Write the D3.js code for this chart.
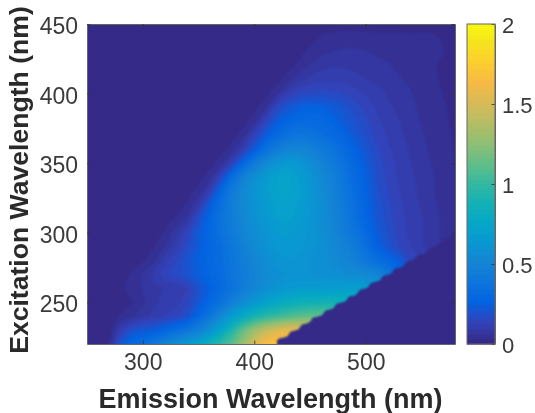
<!DOCTYPE html>
<html><head><meta charset="utf-8">
<script src="https://cdn.jsdelivr.net/npm/d3@7/dist/d3.min.js"></script>
<style>html,body{margin:0;padding:0;background:#fff}svg{display:block;filter:blur(0.4px)}text{font-family:"Liberation Sans",Arial,sans-serif}</style>
</head><body><svg id="c" width="535" height="413"></svg>
<script>
const emission = [250,260,270,280,290,300,310,320,330,340,350,360,370,380,390,400,410,420,430,440,450,460,470,480,490,500,510,520,530,540,550,560,570,580];
const excitation = [220,230,240,250,260,270,280,290,300,310,320,330,340,350,360,370,380,390,400,410,420,430,440,450];
// each row lists the values up to 580 nm; columns left of the list are zero
const row220 = [.02,.2,.3,.33,.4,.48,.55,.65,.73,.85,.98,1.1,1.28,1.5,1.64,1.7,1.72,1.75,1.75,1.75,1.75,1.75,1.75,1.75,1.75,1.75,1.75,1.75,1.75,1.75,1.75,1.75];
const row230 = [.1,.18,.2,.22,.27,.32,.38,.45,.58,.72,.92,1.12,1.28,1.42,1.5,1.55,1.55,1.55,1.55,1.55,1.55,1.55,1.55,1.55,1.55,1.55,1.55,1.55,1.55,1.55,1.55];
const row240 = [.02,.04,.07,.09,.11,.13,.17,.28,.38,.52,.66,.78,.88,.95,1,1.05,1.1,1.12,1.12,1.12,1.12,1.12,1.12,1.12,1.12,1.12,1.12,1.12,1.12,1.12,1.12];
const row250 = [0,.015,.04,.07,.09,.1,.13,.2,.28,.36,.46,.54,.62,.7,.76,.8,.83,.85,.86,.86,.85,.85,.85,.85,.85,.85,.85,.85,.85,.85,.85];
const row260 = [.01,.025,.05,.07,.08,.08,.11,.18,.24,.3,.36,.43,.5,.56,.6,.63,.65,.65,.65,.66,.66,.68,.68,.65,.6,.55,.5,.4,.3,.25,.2];
const row270 = [.005,.02,.05,.09,.13,.16,.19,.23,.27,.31,.37,.43,.48,.53,.57,.58,.58,.58,.57,.56,.55,.54,.52,.5,.42,.3,.22,.16,.12,.09,.06];
const row280 = [.005,.012,.04,.1,.14,.19,.24,.28,.32,.38,.44,.5,.55,.59,.61,.6,.58,.56,.54,.5,.46,.39,.33,.28,.22,.14,.11,.08,.05,.03];
const row290 = [.005,.015,.05,.1,.16,.22,.27,.32,.39,.46,.53,.58,.62,.63,.62,.6,.57,.53,.48,.42,.34,.25,.19,.14,.11,.085,.06,.04,.025];
const row300 = [.005,.02,.07,.13,.21,.28,.35,.42,.49,.55,.6,.64,.65,.63,.6,.56,.51,.44,.37,.3,.22,.17,.13,.1,.08,.06,.04,.025];
const row310 = [.005,.02,.06,.17,.27,.36,.44,.51,.57,.62,.67,.68,.66,.61,.56,.5,.43,.35,.27,.2,.16,.12,.1,.08,.06,.04,.02];
const row320 = [.005,.02,.08,.22,.34,.44,.52,.59,.64,.69,.7,.67,.62,.56,.49,.41,.33,.26,.19,.15,.115,.095,.075,.055,.035,.02];
const row330 = [.005,.025,.1,.28,.42,.52,.6,.66,.71,.72,.68,.62,.55,.48,.4,.32,.25,.18,.14,.11,.09,.07,.05,.035,.02];
const row340 = [.005,.03,.14,.33,.46,.56,.64,.71,.72,.67,.6,.53,.46,.38,.3,.24,.17,.13,.105,.085,.065,.05,.035,.02];
const row350 = [.005,.03,.12,.28,.42,.52,.6,.64,.62,.56,.49,.42,.35,.28,.22,.16,.125,.1,.08,.06,.045,.03,.015];
const row360 = [.005,.03,.1,.22,.34,.43,.49,.5,.47,.42,.37,.31,.25,.2,.15,.115,.095,.075,.055,.04,.03,.015];
const row370 = [.005,.03,.12,.22,.3,.36,.38,.37,.34,.3,.26,.21,.17,.13,.105,.085,.07,.05,.04,.025,.012];
const row380 = [.005,.035,.13,.22,.27,.3,.3,.29,.26,.22,.18,.15,.115,.095,.08,.06,.045,.035,.02,.01];
const row390 = [.005,.04,.14,.2,.23,.25,.24,.22,.19,.16,.13,.105,.085,.07,.055,.04,.03,.018,.01];
const row400 = [.005,.04,.1,.14,.15,.155,.15,.14,.125,.105,.09,.075,.06,.05,.035,.025,.015,.008];
const row410 = [.005,.03,.07,.09,.1,.1,.1,.09,.08,.07,.06,.05,.04,.03,.02,.012,.006];
const row420 = [.005,.025,.05,.065,.075,.075,.07,.06,.055,.05,.04,.033,.025,.018,.012,.005];
const row430 = [.005,.025,.04,.048,.052,.052,.048,.042,.038,.034,.03,.026,.022,.016,.005];
const row440 = [.005,.02,.028,.032,.032,.03,.028,.028,.026,.024,.024,.024,.012,.003];
const row450 = [];
const rows = [row220,row230,row240,row250,row260,row270,row280,row290,row300,row310,row320,row330,row340,row350,row360,row370,row380,row390,row400,row410,row420,row430,row440,row450];
// scatter cut-off edge
const cutEx = [220,225,230,235,240,245,250,255,260,265,270,275,280,285,290,295,300];
const cutEm = [420,431,441,451,462,472,483,493,503,514,524,535,545,556,566,577,587];
const parula = ["#352a87","#3243ba","#0363e1","#0d75dc","#1485d4","#0998d1","#06a7c6","#15b1b4","#38b99e","#65be86","#92bf73","#b7bd64","#d9ba56","#f8ba44","#fcce2e","#f5e41d","#f9fb0e"];
const xTicks = [300,400,500];
const yTicks = [250,300,350,400,450];
const cTicks = [0,0.5,1,1.5,2];
const cTickLabels = ["0","0.5","1","1.5","2"];
const xTitle = "Emission Wavelength (nm)";
const yTitle = "Excitation Wavelength (nm)";

const L=87,R=455,T=24,B=344,CL=467,CR=495;
const x=d3.scaleLinear().domain([250,580]).range([L,R]);
const y=d3.scaleLinear().domain([220,450]).range([B,T]);
const cy=d3.scaleLinear().domain([0,2]).range([B,T]);
const color=d3.scaleLinear().domain(parula.map((_,i)=>i*2/16)).range(parula).interpolate(d3.interpolateRgb);
const nLevels=64, lv=2/nLevels;
const svg=d3.select("#c");
const defs=svg.append("defs");
defs.append("clipPath").attr("id","plotClip").append("rect").attr("x",L).attr("y",T).attr("width",R-L).attr("height",B-T);
const stairs=[];
cutEx.forEach((e,i)=>{ stairs.push([cutEm[i],e]); if(i<cutEx.length-1) stairs.push([cutEm[i],cutEx[i+1]]); });
const stairLine=d3.line().x(d=>x(d[0])).y(d=>y(d[1])).curve(d3.curveBasis);
const stairPath=stairLine(stairs);
defs.append("clipPath").attr("id","cutClip").append("path")
  .attr("d",stairPath+`L${R+20},${y(cutEx[cutEx.length-1])}L${R+20},${T-20}L${L-20},${T-20}L${L-20},${B+20}L${x(cutEm[0])},${B+20}Z`);

const nx=emission.length, ny=excitation.length;
const values=[]; for(let j=0;j<ny;j++){ const r=rows[j], off=nx-r.length; for(let i=0;i<nx;i++) values.push(i<off?0:r[i-off]); }
const thresholds=d3.range(1,nLevels).map(i=>(i-0.5)*lv);
const conts=d3.contours().size([nx,ny]).smooth(true).thresholds(thresholds)(values);
const emAt=d3.scaleLinear().domain([0.5,nx-0.5]).range([emission[0],emission[nx-1]]);
const exAt=d3.scaleLinear().domain([0.5,ny-0.5]).range([excitation[0],excitation[ny-1]]);
const path=d3.geoPath(d3.geoTransform({point(a,b){this.stream.point(x(emAt(a)),y(exAt(b)));}}));

const plot=svg.append("g").attr("clip-path","url(#plotClip)");
const blurred=plot.append("g").style("filter","blur(1px)");
blurred.append("rect").attr("x",L-5).attr("y",T-5).attr("width",R-L+10).attr("height",B-T+10).attr("fill",color(0));
const heat=blurred.append("g").attr("clip-path","url(#cutClip)");
heat.selectAll("path").data(conts).join("path").attr("d",path)
  .attr("fill",d=>color(d.value+lv/2)).attr("stroke",d=>color(d.value+lv/2)).attr("stroke-width",0.3);

const cb=svg.append("g");
cb.selectAll("rect").data(d3.range(nLevels)).join("rect")
  .attr("x",CL).attr("width",CR-CL)
  .attr("y",i=>cy((i+1)*lv)).attr("height",i=>cy(i*lv)-cy((i+1)*lv)+0.6)
  .attr("fill",i=>color(i*lv));

function styleAxis(g,size){
  g.selectAll("path.domain").attr("stroke","#666").attr("stroke-width",1);
  g.selectAll("line").attr("stroke","#333").attr("stroke-width",0.8);
  g.selectAll("text").attr("fill","#3a3a3a").attr("font-size",size).attr("font-family",'"Liberation Sans",Arial,sans-serif');
}
const ax=svg.append("g").attr("transform",`translate(0,${B})`).call(d3.axisBottom(x).tickValues(xTicks).tickSize(-3.5).tickPadding(10).tickSizeOuter(0));
const axT=svg.append("g").attr("transform",`translate(0,${T})`).call(d3.axisTop(x).tickValues(xTicks).tickSize(-3.5).tickFormat("").tickSizeOuter(0));
const ay=svg.append("g").attr("transform",`translate(${L},0)`).call(d3.axisLeft(y).tickValues(yTicks).tickSize(-3.5).tickPadding(9).tickSizeOuter(0));
const ayR=svg.append("g").attr("transform",`translate(${R},0)`).call(d3.axisRight(y).tickValues(yTicks).tickSize(-3.5).tickFormat("").tickSizeOuter(0));
const ac=svg.append("g").attr("transform",`translate(${CR},0)`).call(d3.axisRight(cy).tickValues(cTicks).tickSize(-3.5).tickPadding(7).tickSizeOuter(0).tickFormat((d,i)=>cTickLabels[i]));
[ax,axT,ay,ayR,ac].forEach(g=>styleAxis(g,23));
ay.selectAll("text").attr("dy","0.42em");
ac.selectAll("text").attr("font-size",22).attr("dy","0.38em");
svg.append("rect").attr("x",CL).attr("y",T).attr("width",CR-CL).attr("height",B-T).attr("fill","none").attr("stroke","#666");
svg.append("text").attr("x",270.5).attr("y",408).attr("text-anchor","middle").attr("font-weight","bold").attr("font-size",27).attr("fill","#2a2a2a").text(xTitle);
svg.append("text").attr("transform","translate(28,180) rotate(-90)").attr("text-anchor","middle").attr("font-weight","bold").attr("font-size",26.6).attr("fill","#2a2a2a").text(yTitle);
</script></body></html>
